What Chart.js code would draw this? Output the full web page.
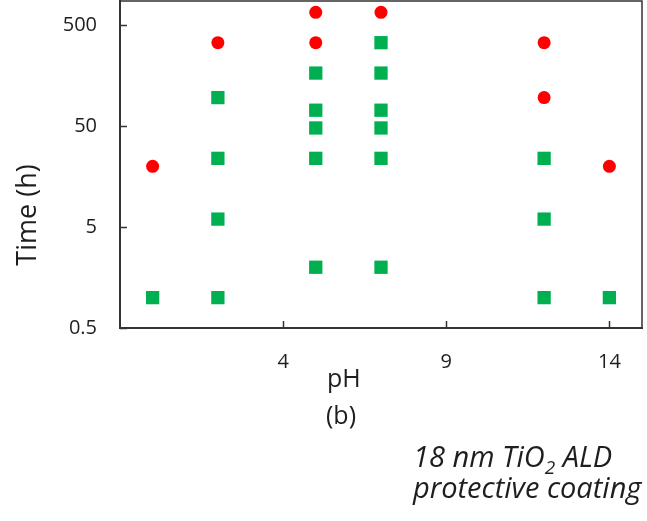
<!DOCTYPE html>
<html>
<head>
<meta charset="utf-8">
<script src="https://cdn.jsdelivr.net/npm/chart.js@4/dist/chart.umd.min.js"></script>
<style>
  body { margin: 0; background: #fff; }
  #wrap { width: 647px; height: 521px; position: relative; }
</style>
</head>
<body>
<div id="wrap"><canvas id="chart"></canvas></div>
<script>
// pH / time (h) points
const redPH = [0, 2, 5, 5, 7, 12, 12, 14];
const redTime = [20, 336, 672, 336, 672, 336, 96, 20];
const greenPH = [0, 2, 2, 2, 2, 5, 5, 5, 5, 5, 7, 7, 7, 7, 7, 7, 12, 12, 12, 14];
const greenTime = [1, 1, 6, 24, 96, 2, 24, 48, 72, 168, 2, 24, 48, 72, 168, 336, 1, 6, 24, 1];
const xTicks = [4, 9, 14];
const yTicks = [0.5, 5, 50, 500];

const textColor = '#1e1e1e';
const axisColor = '#333';

function toPoints(xs, ys) {
    return xs.map((x, i) => ({ x: x, y: ys[i] }));
}

function noPad(s) {
    s.paddingTop = 0;
    s.paddingBottom = 0;
    s.paddingLeft = 0;
    s.paddingRight = 0;
}

// frame on top/right, inward ticks, and the free text labels
const extras = {
    id: 'extras',
    afterDraw(chart) {
        const ctx = chart.ctx;
        const a = chart.chartArea;
        const xs = chart.scales.x;
        const ys = chart.scales.y;
        ctx.save();
        ctx.strokeStyle = axisColor;
        ctx.lineWidth = 1.5;
        ctx.beginPath();
        ctx.moveTo(a.left, a.top);
        ctx.lineTo(a.right, a.top);
        ctx.lineTo(a.right, a.bottom);
        ctx.stroke();

        ctx.beginPath();
        xTicks.forEach(v => {
            const px = Math.round(xs.getPixelForValue(v)) + 0.5;
            ctx.moveTo(px, a.bottom);
            ctx.lineTo(px, a.bottom - 7);
        });
        yTicks.forEach(v => {
            const py = Math.round(ys.getPixelForValue(v)) + 0.5;
            ctx.moveTo(a.left, py);
            ctx.lineTo(a.left + 7, py);
        });
        ctx.stroke();

        ctx.fillStyle = textColor;
        // y title
        ctx.save();
        ctx.translate(36, 215);
        ctx.rotate(-Math.PI / 2);
        ctx.font = '27px "Open Sans"';
        ctx.textAlign = 'center';
        ctx.textBaseline = 'alphabetic';
        ctx.fillText('Time (h)', 0, 0);
        ctx.restore();

        // x title and panel letter
        ctx.font = '25px "Open Sans"';
        ctx.textAlign = 'left';
        ctx.textBaseline = 'alphabetic';
        ctx.fillText('pH', 327, 387);
        ctx.fillText('(b)', 326, 424);

        // note
        ctx.font = 'italic 29px "Open Sans"';
        let x = 413;
        const s1 = '18 nm TiO';
        ctx.fillText(s1, x, 467);
        x += ctx.measureText(s1).width;
        ctx.font = 'italic 19px "Open Sans"';
        ctx.fillText('2', x, 474);
        x += ctx.measureText('2').width;
        ctx.font = 'italic 29px "Open Sans"';
        ctx.fillText(' ALD', x, 467);
        ctx.fillText('protective coating', 413, 498);
        ctx.restore();
    }
};

new Chart(document.getElementById('chart'), {
    type: 'scatter',
    data: {
        datasets: [{
            label: 'green',
            data: toPoints(greenPH, greenTime),
            pointStyle: 'rect',
            pointRadius: 9.4,
            pointHoverRadius: 9.4,
            pointBorderWidth: 0,
            backgroundColor: '#00b050',
            borderColor: '#00b050'
        }, {
            label: 'red',
            data: toPoints(redPH, redTime),
            pointStyle: 'circle',
            pointRadius: 6.5,
            pointHoverRadius: 6.5,
            pointBorderWidth: 0,
            backgroundColor: '#ff0000',
            borderColor: '#ff0000'
        }]
    },
    options: {
        responsive: true,
        maintainAspectRatio: false,
        animation: false,
        layout: { autoPadding: false, padding: { top: 1, right: 5, left: 0, bottom: 0 } },
        plugins: {
            legend: { display: false },
            tooltip: { enabled: false }
        },
        scales: {
            x: {
                type: 'linear',
                position: 'bottom',
                min: -1,
                max: 15,
                afterBuildTicks: s => { s.ticks = xTicks.map(v => ({ value: v })); },
                afterFit: s => { s.height = 193; noPad(s); },
                grid: { display: false, drawTicks: false },
                border: { display: true, color: axisColor, width: 2 },
                ticks: {
                    autoSkip: false,
                    maxRotation: 0,
                    padding: 22,
                    color: textColor,
                    font: { family: 'Open Sans', size: 20 },
                    callback: v => String(v)
                }
            },
            y: {
                type: 'logarithmic',
                min: 0.5,
                max: 870,
                afterBuildTicks: s => { s.ticks = yTicks.map(v => ({ value: v })); },
                afterFit: s => { s.width = 120; noPad(s); },
                grid: { display: false, drawTicks: false },
                border: { display: true, color: axisColor, width: 2 },
                ticks: {
                    autoSkip: false,
                    padding: 23,
                    color: textColor,
                    font: { family: 'Open Sans', size: 20 },
                    callback: v => String(v)
                }
            }
        }
    },
    plugins: [extras]
});
</script>
</body>
</html>
